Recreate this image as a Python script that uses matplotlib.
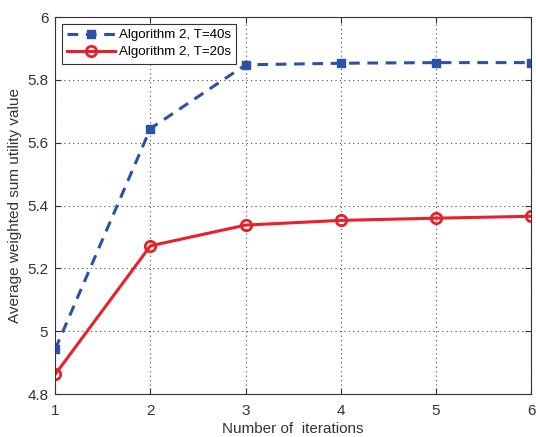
import matplotlib
matplotlib.use("Agg")
import matplotlib.pyplot as plt

plt.rcParams['font.family'] = ['Liberation Sans', 'DejaVu Sans']

iterations = [1, 2, 3, 4, 5, 6]
utility_t40 = [4.943, 5.645, 5.848, 5.853, 5.855, 5.855]
utility_t20 = [4.863, 5.272, 5.338, 5.353, 5.360, 5.366]
label_t40 = "Algorithm 2, T=40s"
label_t20 = "Algorithm 2, T=20s"

fig = plt.figure(figsize=(5.36, 4.37), dpi=100)
ax = fig.add_axes([0.103, 0.098, 0.888, 0.863])

ax.plot(iterations, utility_t40, linestyle=(0, (3.5, 2.5)), color='#2c52a6', linewidth=2.2,
        marker='s', markersize=6, markerfacecolor='#2c52a6', markeredgecolor='#2c52a6',
        label=label_t40)
ax.plot(iterations, utility_t20, linestyle='-', color='#e8202a', linewidth=2.2,
        marker='o', markersize=7.5, markerfacecolor='none', markeredgewidth=2,
        markeredgecolor='#e8202a', label=label_t20)

ax.set_xlim(1, 6)
ax.set_ylim(4.8, 6.0)
ax.set_xticks(iterations)
ax.set_yticks([4.8, 5.0, 5.2, 5.4, 5.6, 5.8, 6.0])
ax.set_yticklabels(['4.8', '5', '5.2', '5.4', '5.6', '5.8', '6'])
ax.grid(True, linestyle=(0, (1, 3)), color='#444444', linewidth=0.8)
ax.tick_params(direction='in', top=True, right=True, labelsize=11, labelcolor='#333333',
               color='#333333', length=4)
ax.tick_params(axis='x', pad=7)
ax.tick_params(axis='y', pad=5)
for sp in ax.spines.values():
    sp.set_color('#333333')
    sp.set_linewidth(0.8)

ax.set_xlabel("Number of  iterations", fontsize=11, color='#333333', labelpad=3)
ax.set_ylabel("Average weighted sum utility value", fontsize=11, color='#333333')

leg = ax.legend(loc='upper left', fontsize=9.6, fancybox=False, framealpha=1,
                edgecolor='#333333', handlelength=3.6, borderaxespad=0.5,
                labelspacing=0.35, handletextpad=0.25, borderpad=0.4)
leg.get_frame().set_linewidth(0.8)

fig.savefig("out.png", dpi=100)
